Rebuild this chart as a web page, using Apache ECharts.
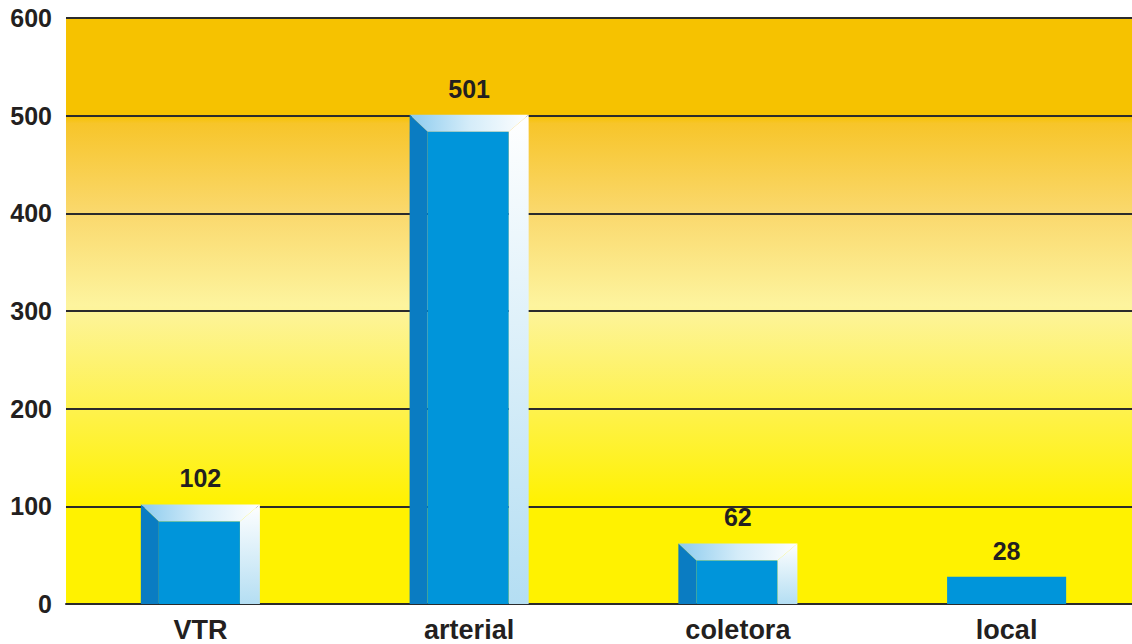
<!DOCTYPE html>
<html>
<head>
<meta charset="utf-8">
<script src="https://cdn.jsdelivr.net/npm/echarts@6/dist/echarts.min.js"></script>
<style>
html,body{margin:0;padding:0;background:#fff;overflow:hidden;width:1132px;height:644px;}
#c{width:1141px;height:644px;}
</style>
</head>
<body>
<div id="c"></div>
<script>
const categories = ['VTR', 'arterial', 'coletora', 'local'];
const values = [102, 501, 62, 28];
const yTicks = [0, 100, 200, 300, 400, 500, 600];

const FONT = '"Liberation Sans", Arial, Helvetica, sans-serif';
const chart = echarts.init(document.getElementById('c'), null, {renderer: 'svg'});

function renderItem(params, api) {
  const idx = api.value(0);
  const v = api.value(1);
  const top = api.coord([idx, v]);
  const base = api.coord([idx, 0]);
  const bw = api.size([1, 0])[0] * 0.443;
  const x0 = top[0] - bw / 2, x1 = top[0] + bw / 2;
  const y0 = top[1], y1 = base[1];
  const h = y1 - y0;
  const children = [];
  if (h < 40) {
    children.push({type: 'rect', shape: {x: x0, y: y0, width: bw, height: h}, style: {fill: '#0095DA'}});
  } else {
    const t = 17, r = 20, l = 18;
    children.push({
      type: 'polygon',
      shape: {points: [[x0, y0], [x1, y0], [x1 - r, y0 + t], [x0 + l, y0 + t]]},
      style: {fill: new echarts.graphic.LinearGradient(0, 0, 1, 0, [
        {offset: 0, color: '#8CCBEE'}, {offset: 0.5, color: '#D4ECF9'}, {offset: 1, color: '#FFFFFF'}])}
    });
    children.push({
      type: 'polygon',
      shape: {points: [[x1, y0], [x1, y1], [x1 - r, y1], [x1 - r, y0 + t]]},
      style: {fill: new echarts.graphic.LinearGradient(0, 0, 0, 1, [
        {offset: 0, color: '#FFFFFF'}, {offset: 1, color: '#B4DEF3'}])}
    });
    children.push({
      type: 'polygon',
      shape: {points: [[x0, y0], [x0 + l, y0 + t], [x0 + l, y1], [x0, y1]]},
      style: {fill: '#0A7CC2'}
    });
    children.push({
      type: 'rect',
      shape: {x: x0 + l, y: y0 + t, width: bw - l - r, height: y1 - y0 - t},
      style: {fill: '#0095DA'}
    });
  }
  children.push({
    type: 'text',
    style: {
      text: String(v), x: top[0], y: y0 - 26,
      align: 'center', verticalAlign: 'middle',
      font: 'bold 25px ' + FONT, fill: '#231F20'
    }
  });
  return {type: 'group', children: children};
}

chart.setOption({
  animation: false,
  backgroundColor: '#ffffff',
  grid: {
    left: 66, right: 0, top: 18, bottom: 40, show: true, borderWidth: 0,
    backgroundColor: new echarts.graphic.LinearGradient(0, 0, 0, 1, [
      {offset: 0, color: '#F6C200'},
      {offset: 0.167, color: '#F6C200'},
      {offset: 0.18, color: '#F7C52A'},
      {offset: 0.33, color: '#FAD86C'},
      {offset: 0.49, color: '#FDF49E'},
      {offset: 0.67, color: '#FEF24C'},
      {offset: 0.83, color: '#FFF200'},
      {offset: 1, color: '#FFF200'}
    ])
  },
  xAxis: {
    type: 'category',
    data: categories,
    axisTick: {show: false},
    axisLine: {show: true, lineStyle: {color: '#2B2B2B', width: 2}},
    axisLabel: {fontSize: 27, fontWeight: 'bold', color: '#231F20', fontFamily: FONT, margin: 12}
  },
  yAxis: {
    type: 'value',
    min: yTicks[0], max: yTicks[yTicks.length - 1], interval: 100,
    axisLine: {show: false},
    axisTick: {show: false},
    splitLine: {show: true, lineStyle: {color: '#2B2B2B', width: 2}},
    axisLabel: {fontSize: 25, fontWeight: 'bold', color: '#231F20', fontFamily: FONT, margin: 14}
  },
  series: [{
    type: 'custom',
    renderItem: renderItem,
    encode: {x: 0, y: 1},
    data: values.map((v, i) => [i, v]),
    z: 3
  }]
});
</script>
</body>
</html>
